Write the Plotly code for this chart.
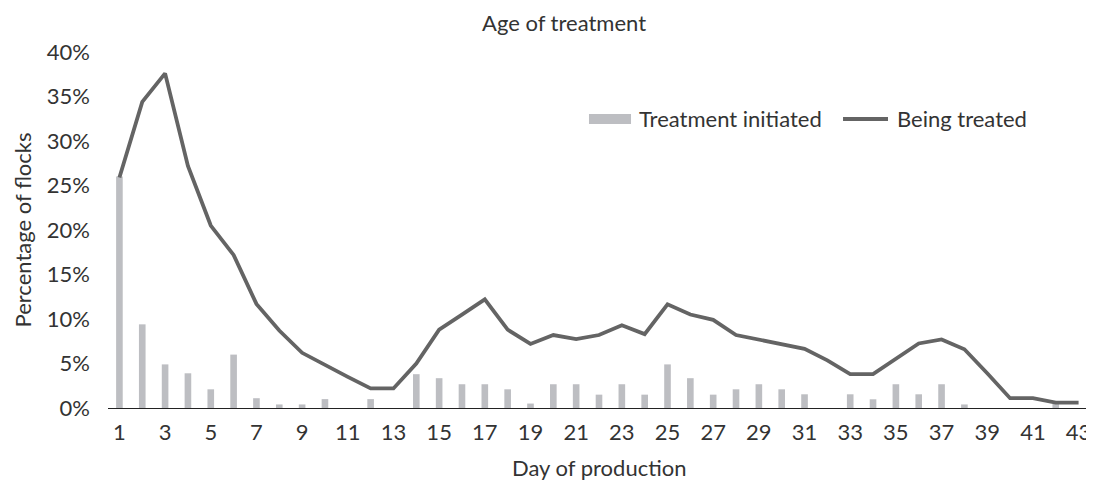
import plotly.graph_objects as go

days = [str(d) for d in range(1, 44)]
treatment_initiated = [26.0, 9.4, 4.9, 3.9, 2.1, 6.0, 1.1, 0.4, 0.4, 1.0,
                       0.0, 1.0, 0.0, 3.8, 3.35, 2.67, 2.67, 2.1, 0.5, 2.67,
                       2.67, 1.5, 2.67, 1.5, 4.9, 3.35, 1.5, 2.1, 2.67, 2.1,
                       1.54, 0.0, 1.54, 0.98, 2.67, 1.54, 2.67, 0.4, 0.0, 0.0,
                       0.0, 0.5, 0.0]
being_treated = [25.9, 34.4, 37.6, 27.2, 20.5, 17.2, 11.7, 8.7, 6.2, 4.8,
                 3.5, 2.2, 2.2, 5.0, 8.8, 10.5, 12.2, 8.8, 7.2, 8.2,
                 7.75, 8.2, 9.3, 8.3, 11.65, 10.5, 9.9, 8.2, 7.7, 7.2,
                 6.65, 5.35, 3.8, 3.8, 5.55, 7.25, 7.7, 6.6, 3.9, 1.1,
                 1.1, 0.6, 0.6]
y_ticks = [0, 5, 10, 15, 20, 25, 30, 35, 40]
y_tick_labels = [f"{v}%" for v in y_ticks]
x_tick_labels = [str(d) for d in range(1, 44, 2)]
series_names = ["Treatment initiated", "Being treated"]

FONT = "Lato, 'Open Sans', sans-serif"
TXT = "#333333"
BAR_C = "#BDBEC2"
LINE_C = "#646464"
FS = 22

fig = go.Figure()
fig.add_trace(go.Bar(
    x=days, y=treatment_initiated, name=series_names[0],
    marker=dict(color=BAR_C, line=dict(width=0)), width=0.29, showlegend=False,
))
fig.add_trace(go.Scatter(
    x=days, y=being_treated, name=series_names[1], mode="lines",
    line=dict(color=LINE_C, width=3.8), showlegend=False,
))

# custom legend (paper coords)
fig.add_shape(type="rect", xref="paper", yref="paper",
              x0=0.4898, x1=0.5326, y0=0.798, y1=0.826,
              fillcolor=BAR_C, line=dict(width=0))
fig.add_shape(type="line", xref="paper", yref="paper",
              x0=0.7485, x1=0.7943, y0=0.8118, y1=0.8118,
              line=dict(color=LINE_C, width=3.8))
fig.add_annotation(text=series_names[0], xref="paper", yref="paper",
                   x=0.5397, y=0.8118, xanchor="left", yanchor="middle",
                   showarrow=False, font=dict(size=FS, color=TXT), borderpad=0)
fig.add_annotation(text=series_names[1], xref="paper", yref="paper",
                   x=0.8024, y=0.8118, xanchor="left", yanchor="middle",
                   showarrow=False, font=dict(size=FS, color=TXT), borderpad=0)

# axis titles
fig.add_annotation(text="Percentage of flocks", xref="paper", yref="paper",
                   x=-0.0871, y=0.5, xanchor="center", yanchor="middle", textangle=-90,
                   showarrow=False, font=dict(size=FS, color=TXT))
fig.add_annotation(text="Day of production", xref="paper", yref="paper",
                   x=0.5, y=-0.167, xanchor="center", yanchor="middle",
                   showarrow=False, font=dict(size=FS, color=TXT))

fig.update_layout(
    width=1086, height=473,
    margin=dict(l=100, r=4, t=44, b=73, autoexpand=False),
    paper_bgcolor="white", plot_bgcolor="white",
    font=dict(family=FONT, size=FS, color=TXT),
    title=dict(text="Age of treatment", xref="paper", x=0.4644, xanchor="center",
               y=0.968, yanchor="middle", font=dict(size=FS, color=TXT)),
    showlegend=False,
)
fig.update_xaxes(
    type="category", range=[-0.5, 42.5],
    tickmode="array", tickvals=x_tick_labels, ticktext=x_tick_labels,
    showgrid=False, showline=True, linecolor="#222222", linewidth=1.2,
    ticks="", tickfont=dict(size=FS, color=TXT), zeroline=False,
    ticklabelstandoff=4,
)
fig.update_yaxes(
    range=[0, 40], tickmode="array", tickvals=y_ticks, ticktext=y_tick_labels,
    showgrid=False, showline=False, zeroline=False, ticks="",
    tickfont=dict(size=FS, color=TXT), ticklabelstandoff=17,
)

fig.write_html("out.html")
